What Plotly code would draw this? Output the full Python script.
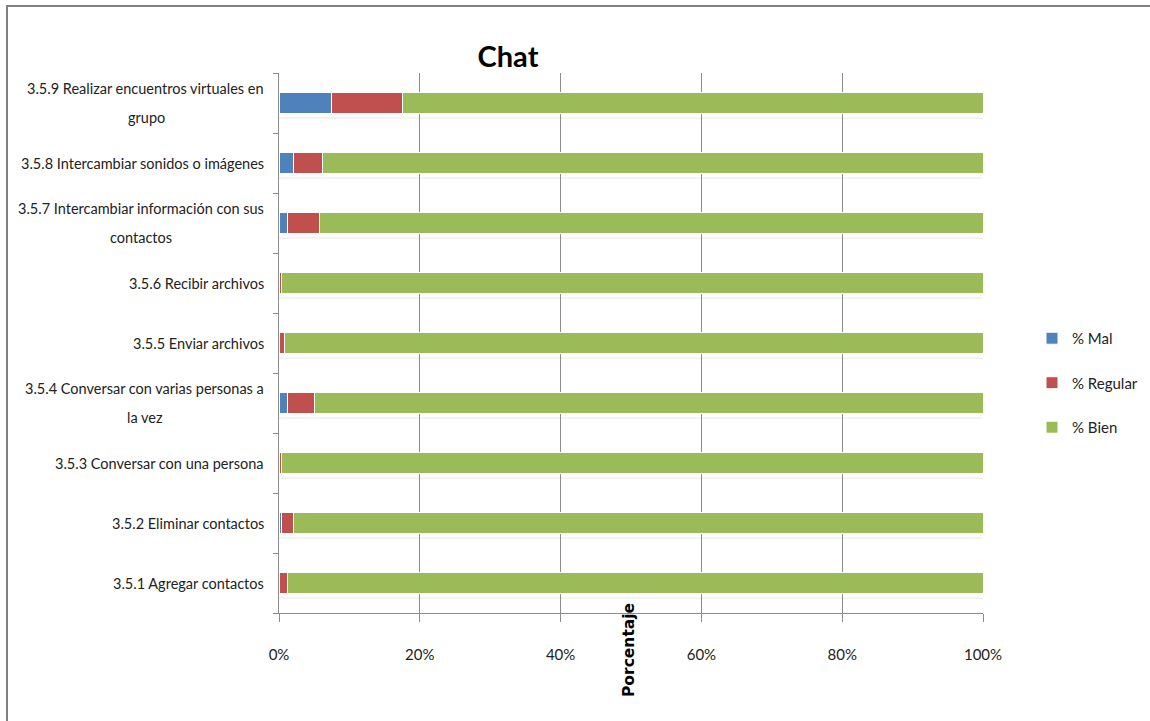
import plotly.graph_objects as go

# Chat skills survey: share of answers per activity (percent)
categorias = [
    "3.5.1 Agregar contactos",
    "3.5.2 Eliminar contactos",
    "3.5.3 Conversar con una persona",
    "3.5.4 Conversar con varias personas a|la vez",
    "3.5.5 Enviar archivos",
    "3.5.6 Recibir archivos",
    "3.5.7 Intercambiar información con sus|contactos",
    "3.5.8 Intercambiar sonidos o imágenes",
    "3.5.9 Realizar encuentros virtuales en|grupo",
]
pct_mal = [0.0, 0.3, 0.0, 1.2, 0.0, 0.0, 1.2, 2.0, 7.4]
pct_regular = [1.2, 1.7, 0.3, 3.8, 0.8, 0.3, 4.6, 4.2, 10.1]
pct_bien = [98.8, 98.0, 99.7, 95.0, 99.2, 99.7, 94.2, 93.8, 82.5]
x_ticks = [0, 20, 40, 60, 80, 100]
x_tick_text = ["0%", "20%", "40%", "60%", "80%", "100%"]

FONT = "Lato, Roboto, sans-serif"
TXT = "#222"
LABEL_SIZE = 14.5

totales = [m + r + b for m, r, b in zip(pct_mal, pct_regular, pct_bien)]

fig = go.Figure()

# soft drop shadow under each bar (overlay axis so it does not stack)
for off, alpha in [(-0.27, 0.07), (-0.245, 0.14), (-0.22, 0.22)]:
    fig.add_trace(go.Bar(
        y=categorias, x=totales, orientation="h", yaxis="y2",
        offset=off, width=0.045,
        marker=dict(color=f"rgba(90,90,90,{alpha})", line=dict(width=0)),
        showlegend=False, hoverinfo="skip",
    ))

series = [
    ("% Mal", pct_mal, "#4F81BD"),
    ("% Regular", pct_regular, "#C0504D"),
    ("% Bien", pct_bien, "#9BBB59"),
]
for nombre, valores, color in series:
    fig.add_trace(go.Bar(
        y=categorias, x=valores, orientation="h", name=nombre,
        legendgroup=nombre, width=0.35,
        marker=dict(color=color, line=dict(color="white", width=1)),
    ))

# category labels: right-aligned next to the axis, wrapped ones with the
# second line centred under the first and generous line spacing
PLOT_L, PLOT_W = 279, 704
label_x = -13 / PLOT_W
segunda_linea_centro = {3: 145, 6: 141, 8: 146}
anotaciones = []
for i, cat in enumerate(categorias):
    partes = cat.split("|")
    if len(partes) == 1:
        anotaciones.append(dict(
            text=cat, xref="paper", yref="y", x=label_x, y=cat,
            xanchor="right", yanchor="middle", showarrow=False,
            font=dict(family=FONT, size=LABEL_SIZE, color=TXT)))
    else:
        anotaciones.append(dict(
            text=partes[0], xref="paper", yref="y", x=label_x, y=cat,
            xanchor="right", yanchor="middle", yshift=14.5, showarrow=False,
            font=dict(family=FONT, size=LABEL_SIZE, color=TXT)))
        anotaciones.append(dict(
            text=partes[1], xref="paper", yref="y",
            x=(segunda_linea_centro[i] - PLOT_L) / PLOT_W, y=cat,
            xanchor="center", yanchor="middle", yshift=-14.5, showarrow=False,
            font=dict(family=FONT, size=LABEL_SIZE, color=TXT)))

anotaciones.append(dict(
    text="<b>Porcentaje</b>", textangle=-90,
    xref="paper", yref="paper", x=(629 - PLOT_L) / PLOT_W, y=(613 - 650) / 540,
    xanchor="center", yanchor="middle", showarrow=False,
    font=dict(family="DejaVu Sans", size=15.5, color="black"),
))

fig.update_layout(
    width=1150, height=721,
    barmode="stack",
    paper_bgcolor="white", plot_bgcolor="white",
    margin=dict(l=279, r=167, t=73, b=108, autoexpand=False),
    font=dict(family=FONT, size=15, color=TXT),
    title=dict(text="<b>Chat</b>", font=dict(family=FONT, size=29, color="black"),
               x=(508 / 1150), xanchor="center", y=1 - 57 / 721, yanchor="middle",
               yref="container"),
    xaxis=dict(
        range=[0, 100], tickvals=x_ticks, ticktext=x_tick_text,
        showgrid=True, gridcolor="#8c8c8c", gridwidth=1,
        showline=True, linecolor="#8c8c8c", linewidth=1,
        ticks="outside", ticklen=8, tickcolor="#8c8c8c",
        ticklabelstandoff=20, zeroline=False, automargin=False,
        tickfont=dict(family=FONT, size=15, color=TXT),
    ),
    yaxis=dict(
        categoryorder="array", categoryarray=categorias,
        range=[-0.5, 8.5], automargin=False, showticklabels=False,
        showline=True, linecolor="#8c8c8c", linewidth=1,
        ticks="outside", ticklen=5, tickcolor="#8c8c8c", tickson="boundaries",
        showgrid=False,
    ),
    yaxis2=dict(
        overlaying="y", categoryorder="array", categoryarray=categorias,
        range=[-0.5, 8.5], showticklabels=False, showgrid=False,
        showline=False, ticks="", automargin=False,
    ),
    legend=dict(
        x=(1032 - PLOT_L) / PLOT_W, xanchor="left", y=0.426, yanchor="middle",
        font=dict(family=FONT, size=15, color=TXT),
        tracegroupgap=22, itemwidth=30,
        traceorder="grouped",
    ),
    annotations=anotaciones,
    shapes=[dict(
        type="rect", xref="paper", yref="paper",
        x0=(7 - PLOT_L) / PLOT_W, x1=(1170 - PLOT_L) / PLOT_W,
        y0=(613 - 740) / 540, y1=(613 - 6) / 540,
        line=dict(color="#808080", width=2), fillcolor="rgba(0,0,0,0)",
        layer="below",
    )],
)

fig.write_html("out.html")
